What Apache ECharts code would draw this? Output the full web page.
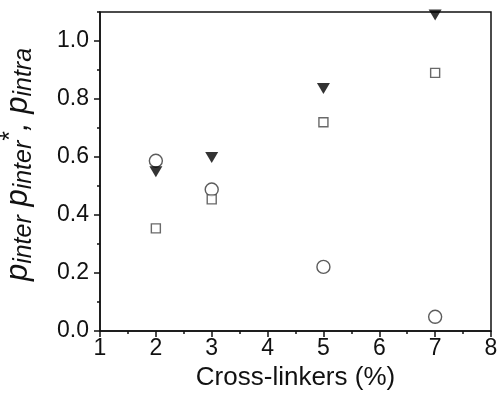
<!DOCTYPE html>
<html>
<head>
<meta charset="utf-8">
<script src="https://cdn.jsdelivr.net/npm/echarts@6/dist/echarts.min.js"></script>
<style>
  html, body { margin: 0; padding: 0; background: #fff; }
  #chart { width: 500px; height: 393px; }
</style>
</head>
<body>
<div id="chart"></div>
<script>
(function() {
    // cross-linker content (%)
    var crossLinkers = [2, 3, 5, 7];

    // three probabilities
    var pIntraCircle = [0.587, 0.488, 0.221, 0.049];
    var pInterTriangle = [0.549, 0.598, 0.836, 1.09];
    var pInterStarSquare = [0.354, 0.454, 0.720, 0.890];

    // tick values
    var yMajorTicks = [0, 0.2, 0.4, 0.6, 0.8, 1.0];
    var yMinorTicks = [0.1, 0.3, 0.5, 0.7, 0.9, 1.1];

    function pairs(xs, ys) {
        var out = [];
        for (var i = 0; i < xs.length; i++) {
            out.push([xs[i], ys[i]]);
        }
        return out;
    }

    var fontFamily = '"Liberation Sans", Arial, sans-serif';
    var axisColor = '#111';

    var myChart = echarts.init(document.getElementById('chart'), null, { renderer: 'canvas' });
    myChart.setOption({
        animation: false,
        grid: {
            left: 100,
            right: 9,
            top: 12,
            bottom: 62,
            outerBoundsMode: 'none',
            containLabel: false,
            show: true,
            borderColor: axisColor,
            borderWidth: 1.5,
            backgroundColor: 'transparent'
        },
        xAxis: {
            type: 'value',
            min: 1,
            max: 8,
            interval: 1,
            name: 'Cross-linkers (%)',
            nameLocation: 'middle',
            nameGap: 26,
            nameTextStyle: {
                fontFamily: fontFamily,
                fontSize: 26,
                color: axisColor
            },
            axisLine: { show: true, onZero: false, lineStyle: { color: axisColor, width: 1.5 } },
            axisTick: { show: true, inside: false, length: 6, lineStyle: { color: axisColor, width: 1.5 } },
            minorTick: { show: true, splitNumber: 2, length: 3, lineStyle: { color: axisColor, width: 1.5 } },
            splitLine: { show: false },
            axisLabel: {
                margin: 6,
                fontFamily: fontFamily,
                fontSize: 23,
                color: axisColor
            }
        },
        yAxis: [{
            type: 'value',
            min: 0,
            max: 1.1,
            name: '{p|p}{s|inter}{p| p}{s|inter}{u|*}{p|, p}{s|intra}',
            nameLocation: 'middle',
            nameRotate: 90,
            nameGap: 63,
            nameTextStyle: {
                fontFamily: fontFamily,
                color: axisColor,
                padding: [0, 0, 0, 14],
                rich: {
                    p: { fontSize: 31, fontStyle: 'italic', fontFamily: fontFamily, lineHeight: 38, verticalAlign: 'middle' },
                    s: { fontSize: 25, fontStyle: 'italic', fontFamily: fontFamily, lineHeight: 26, verticalAlign: 'bottom' },
                    u: { fontSize: 25, fontFamily: fontFamily, lineHeight: 22, verticalAlign: 'top' }
                }
            },
            axisLine: { show: true, onZero: false, lineStyle: { color: axisColor, width: 1.5 } },
            axisTick: { show: true, inside: false, length: 6, customValues: yMajorTicks, lineStyle: { color: axisColor, width: 1.5 } },
            splitLine: { show: false },
            axisLabel: {
                margin: 11,
                customValues: yMajorTicks,
                fontFamily: fontFamily,
                fontSize: 23,
                color: axisColor,
                formatter: function(v) { return v.toFixed(1); }
            }
        }, {
            // minor ticks only
            type: 'value',
            position: 'left',
            min: 0,
            max: 1.1,
            axisLine: { show: false },
            axisTick: { show: true, inside: false, length: 3, customValues: yMinorTicks, lineStyle: { color: axisColor, width: 1.5 } },
            axisLabel: { show: false },
            splitLine: { show: false }
        }],
        series: [{
            name: 'pintra',
            type: 'scatter',
            symbol: 'circle',
            symbolSize: 13,
            data: pairs(crossLinkers, pIntraCircle),
            itemStyle: { color: '#fff', borderColor: '#333', borderWidth: 1.4 }
        }, {
            name: 'pinter',
            type: 'scatter',
            symbol: 'triangle',
            symbolRotate: 180,
            symbolSize: [13, 11],
            data: pairs(crossLinkers, pInterTriangle),
            itemStyle: { color: '#000' }
        }, {
            name: 'pinter*',
            type: 'scatter',
            symbol: 'rect',
            symbolSize: 9,
            data: pairs(crossLinkers, pInterStarSquare),
            itemStyle: { color: '#fff', borderColor: '#444', borderWidth: 1.4 }
        }]
    });
})();
</script>
</body>
</html>
